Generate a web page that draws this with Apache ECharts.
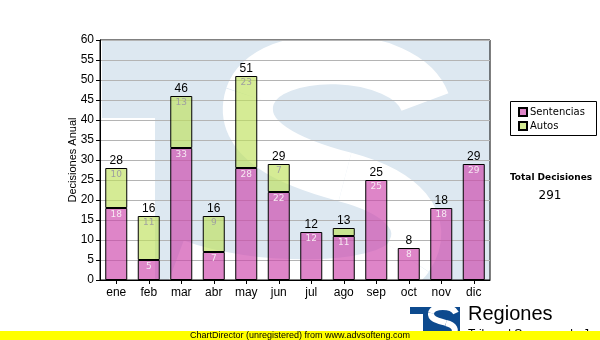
<!DOCTYPE html>
<html>
<head>
<meta charset="utf-8">
<script src="https://cdn.jsdelivr.net/npm/echarts@6/dist/echarts.min.js"></script>
<style>
html, body { margin: 0; padding: 0; background: #ffffff; }
#chart { width: 600px; height: 340px; }
</style>
</head>
<body>
<div id="chart"></div>
<script>
// Monthly decisions, split by type
const months = ['ene', 'feb', 'mar', 'abr', 'may', 'jun', 'jul', 'ago', 'sep', 'oct', 'nov', 'dic'];
const sentencias = [18, 5, 33, 7, 28, 22, 12, 11, 25, 8, 18, 29];
const autos = [10, 11, 13, 9, 23, 7, 0, 2, 0, 0, 0, 0];
const seriesNames = ['Sentencias', 'Autos'];
const yMin = 0, yMax = 60, yStep = 5;

const totals = months.map((m, i) => sentencias[i] + autos[i]);
const grandTotal = totals.reduce((a, b) => a + b, 0);

const SANS = '"Liberation Sans", Arial, sans-serif';
const VERD = '"DejaVu Sans", Verdana, sans-serif';
const WM_BLUE = '#dde8f1';
const LOGO_BLUE = '#0d4a8e';

const chart = echarts.init(document.getElementById('chart'), null, { renderer: 'canvas' });

// An "S" stroke built from cubic segments: [x1,y1, cp1x,cp1y, cp2x,cp2y, x2,y2]
function sStroke(segs, width, z) {
  return segs.map(s => ({
    type: 'bezierCurve', z: z, silent: true,
    shape: { x1: s[0], y1: s[1], cpx1: s[2], cpy1: s[3], cpx2: s[4], cpy2: s[5], x2: s[6], y2: s[7] },
    style: { fill: null, stroke: '#fff', lineWidth: width, lineCap: 'butt' }
  }));
}

// Watermark emblem behind the plot area
const wmSegs = [
  [425, 102, 405, 48, 268, 44, 250, 96],
  [250, 96, 236, 140, 292, 163, 345, 177],
  [345, 177, 402, 192, 432, 222, 408, 258],
  [408, 258, 385, 292, 250, 292, 175, 264]
];
// Small emblem beside the caption at the bottom
const logoSegs = [
  [456, 313, 452, 305, 433, 305, 431, 313],
  [431, 313, 430, 320, 440, 321, 446, 323],
  [446, 323, 454, 325, 458, 330, 452, 336],
  [452, 336, 446, 341, 432, 340, 426, 336]
];

const graphics = [].concat(
  [
    { type: 'rect', z: -3, silent: true, shape: { x: 102, y: 40, width: 53, height: 78 }, style: { fill: WM_BLUE } },
    { type: 'rect', z: -3, silent: true, shape: { x: 155, y: 40, width: 335, height: 240 }, style: { fill: WM_BLUE } }
  ],
  sStroke(wmSegs, 50, -3),
  [
    { type: 'rect', z: -2, silent: true, shape: { x: 90, y: 281, width: 410, height: 40 }, style: { fill: '#fff' } },
    // legend frame
    { type: 'rect', silent: true, shape: { x: 510.5, y: 101.5, width: 86, height: 34 }, style: { fill: null, stroke: '#000', lineWidth: 1 } },
    // grand total
    { type: 'text', silent: true, style: { x: 551, y: 178, text: 'Total Decisiones', fontFamily: VERD, fontSize: 9, fontWeight: 'bold', fill: '#000', align: 'center', verticalAlign: 'middle' } },
    { type: 'text', silent: true, style: { x: 550, y: 196, text: String(grandTotal), fontFamily: VERD, fontSize: 12, fill: '#000', align: 'center', verticalAlign: 'middle' } },
    // emblem and caption at the bottom
    { type: 'rect', silent: true, shape: { x: 410, y: 307, width: 16, height: 7 }, style: { fill: LOGO_BLUE } },
    { type: 'rect', silent: true, shape: { x: 423, y: 307, width: 37, height: 33 }, style: { fill: LOGO_BLUE } }
  ],
  sStroke(logoSegs, 6, 1),
  [
    { type: 'text', silent: true, style: { x: 468, y: 304, text: 'Regiones', fontFamily: SANS, fontSize: 20, fill: '#000', verticalAlign: 'top' } },
    { type: 'text', silent: true, style: { x: 468, y: 329, text: 'Tribunal Supremo de Justicia', fontFamily: SANS, fontSize: 12, fill: '#000', verticalAlign: 'top' } },
    // banner
    { type: 'rect', z: 10, silent: true, shape: { x: 0, y: 331, width: 600, height: 9 }, style: { fill: '#ffff00' } },
    { type: 'text', z: 11, silent: true, style: { x: 300, y: 336, text: 'ChartDirector (unregistered) from www.advsofteng.com', fontFamily: SANS, fontSize: 9, fill: '#000', align: 'center', verticalAlign: 'middle' } }
  ]
);

chart.setOption({
  animation: false,
  grid: {
    left: 100, right: 110, top: 40, bottom: 60,
    show: true, borderColor: '#000', borderWidth: 1, backgroundColor: 'transparent'
  },
  legend: {
    data: seriesNames,
    orient: 'vertical',
    left: 518, top: 107,
    itemWidth: 8, itemHeight: 8, itemGap: 4,
    padding: 0,
    icon: 'rect',
    textStyle: { fontFamily: VERD, fontSize: 10, color: '#000', padding: [0, 0, 0, -2] },
    selectedMode: false
  },
  xAxis: {
    type: 'category',
    data: months,
    axisLine: { lineStyle: { color: '#000', width: 1 } },
    axisTick: { show: true, alignWithLabel: true, length: 4, lineStyle: { color: '#000' } },
    axisLabel: { fontFamily: SANS, fontSize: 12, color: '#000', margin: 7 }
  },
  yAxis: {
    type: 'value',
    min: yMin, max: yMax, interval: yStep,
    name: 'Decisiones Anual',
    nameLocation: 'middle',
    nameGap: 22,
    nameMoveOverlap: false,
    nameTextStyle: { fontFamily: SANS, fontSize: 11, color: '#000' },
    axisLine: { show: true, lineStyle: { color: '#000', width: 1 } },
    axisTick: { show: true, length: 4, lineStyle: { color: '#000' } },
    axisLabel: { fontFamily: SANS, fontSize: 12, color: '#000', margin: 6 },
    splitLine: { show: true, lineStyle: { color: '#b4b4b4', width: 1 } }
  },
  series: [
    {
      name: seriesNames[0], type: 'bar', stack: 'dec', barWidth: 22,
      data: sentencias,
      itemStyle: { color: 'rgba(204,68,170,0.65)', borderColor: '#000', borderWidth: 1 },
      label: {
        show: true, position: 'insideTop', distance: 2,
        fontFamily: VERD, fontSize: 9, color: '#f7e8f2'
      },
      silent: true
    },
    {
      name: seriesNames[1], type: 'bar', stack: 'dec', barWidth: 22,
      data: autos.map(v => (v === 0 ? '-' : v)),
      itemStyle: { color: 'rgba(191,225,92,0.65)', borderColor: '#000', borderWidth: 1 },
      label: {
        show: true, position: 'insideTop', distance: 2,
        fontFamily: VERD, fontSize: 9, color: '#a0a0a0',
        formatter: p => (p.value >= 4 ? String(p.value) : '')
      },
      silent: true
    },
    {
      name: 'Total', type: 'bar', barWidth: 22, barGap: '-100%',
      data: totals,
      itemStyle: { color: 'transparent', borderWidth: 0 },
      label: {
        show: true, position: 'top', distance: 1,
        fontFamily: SANS, fontSize: 12, color: '#000'
      },
      silent: true, z: 1
    }
  ],
  graphic: graphics
});
</script>
</body>
</html>
